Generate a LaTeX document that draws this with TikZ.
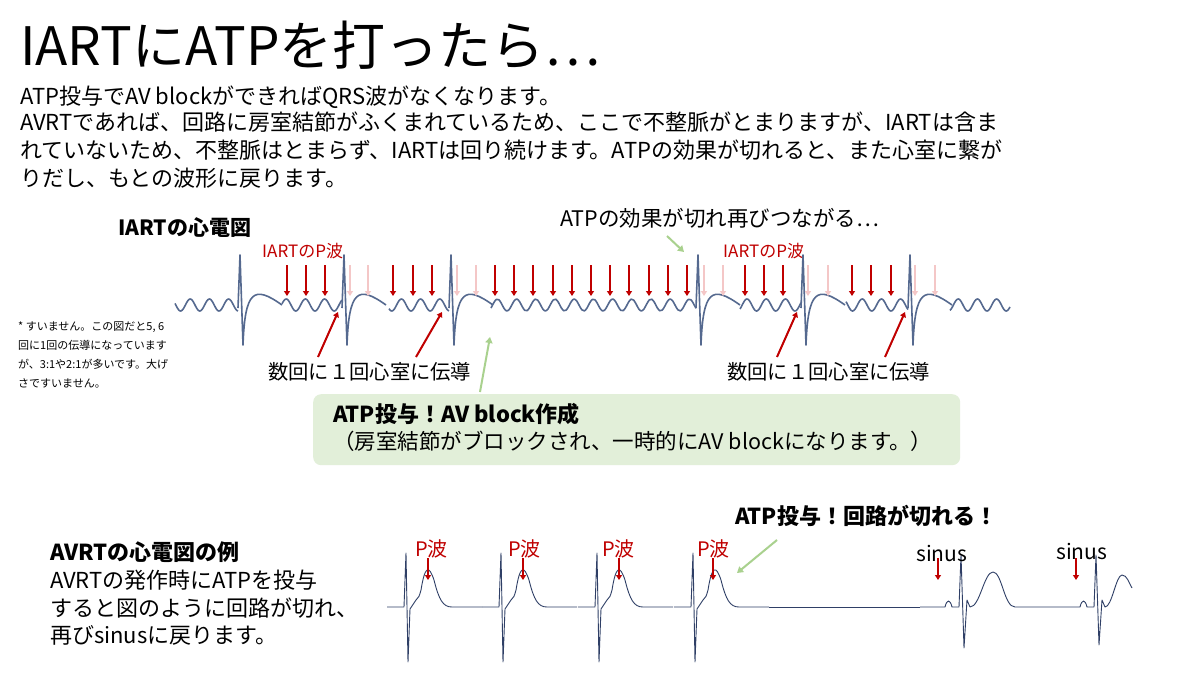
\documentclass[tikz,border=0pt]{standalone}
\usepackage{fontspec}
\setmainfont{Noto Sans CJK JP}
\usetikzlibrary{arrows.meta, positioning, math}
\definecolor{ecgBlue}{HTML}{55698F}
\definecolor{ecgDark}{HTML}{2F3F66}
\definecolor{pRed}{HTML}{C00000}
\definecolor{pPink}{HTML}{F4C7C7}
\definecolor{noteGreen}{HTML}{A9D18E}
\definecolor{boxGreen}{HTML}{E2EFD9}
\begin{document}
\begin{tikzpicture}[x=1pt,y=-1pt]
	\tikzmath{
		\base   = 305;  %upper baseline
		\lbase  = 607;  %lower baseline
		\wave   = 19.2; %IART wave length
	}
	\tikzstyle{Txt}    = [anchor=west, inner sep=0pt, font=\fontsize{22}{26}\selectfont]
	\tikzstyle{BoldTxt}= [Txt, font=\fontsize{22}{26}\selectfont\bfseries]
	\tikzstyle{RedTxt} = [anchor=west, inner sep=0pt, text=pRed, font=\fontsize{17}{20}\selectfont]
	\tikzstyle{RedArr} = [-{Triangle[length=5pt,width=6pt]}, line width=2pt, pRed]
	\tikzstyle{PinkArr}= [-{Triangle[length=5pt,width=6pt]}, line width=2pt, pPink]
	\tikzstyle{GreenArr}=[-{Triangle[length=6pt,width=7pt]}, line width=2pt, noteGreen]
	\tikzstyle{Ecg}    = [ecgBlue, line width=1.6pt, line join=round]
	\tikzstyle{EcgLow} = [ecgDark, line width=0.9pt, line join=round]

	\useasboundingbox[fill=white] (0,0) rectangle (1200,675);

	%%%%%%%%%%%%%%%%%%%%===---HEADER---===%%%%%%%%%%%%%%%%%%%%
	\node (title) [anchor=west, inner sep=0pt, font=\fontsize{53}{58}\selectfont] at (20,45) {IARTにATPを打ったら…};
	\node (line1) [Txt] at (20,97)  {ATP投与でAV blockができればQRS波がなくなります。};
	\node (line2) [Txt] at (20,122) {AVRTであれば、回路に房室結節がふくまれているため、ここで不整脈がとまりますが、IARTは含ま};
	\node (line3) [Txt] at (20,150) {れていないため、不整脈はとまらず、IARTは回り続けます。ATPの効果が切れると、また心室に繋が};
	\node (line4) [Txt] at (20,178) {りだし、もとの波形に戻ります。};

	%%%%%%%%%%%%%%%%%%%%===---IART ECG---===%%%%%%%%%%%%%%%%%%%%
	\node (iartTitle) [BoldTxt, font=\fontsize{21}{24}\selectfont\bfseries] at (118,228) {IARTの心電図};
	\node (pLabel1) [RedTxt] at (262,251) {IARTのP波};
	\node (pLabel2) [RedTxt] at (723,251) {IARTのP波};
	\node (again) [Txt, font=\fontsize{21.5}{24}\selectfont] at (560,218) {ATPの効果が切れ再びつながる…};

	\foreach \a/\b in {175/238, 282/342, 389/449, 491/696, 740/801, 846/908, 950/1010}
		\draw[Ecg] plot[domain=\a:\b, samples=80, smooth] (\x, {\base + 6*sin(360*mod(\x-3,\wave)/\wave)});
	\foreach \s in {240, 344, 451, 698, 803, 910}
		\draw[Ecg] (\s-2,\base+3) -- (\s,255) -- (\s+3,345) .. controls (\s+5,290) and (\s+14,285) .. (\s+42,\base);

	\foreach \ax in {287,306,325, 393,413,432, 495,514,533,553,572,591,610,629,649,668,687, 745,764,783, 852,871,891} {
		\coordinate (rt\ax) at (\ax,265);
		\coordinate (rb\ax) at (\ax,296);
		\draw[RedArr] (rt\ax) -- (rb\ax);
	}
	\foreach \ax in {350,368, 457,476, 704,723, 808,828, 915,935} {
		\coordinate (pt\ax) at (\ax,265);
		\coordinate (pb\ax) at (\ax,296);
		\draw[PinkArr] (pt\ax) -- (pb\ax);
	}

	\node (cond1) [Txt, font=\fontsize{20.3}{24}\selectfont] at (268,372) {数回に１回心室に伝導};
	\node (cond2) [Txt, font=\fontsize{20.3}{24}\selectfont] at (727,372) {数回に１回心室に伝導};
	\coordinate (c1a) at (318,357); \coordinate (c1b) at (338,312);
	\coordinate (c2a) at (416,357); \coordinate (c2b) at (442,312);
	\coordinate (c3a) at (777,357); \coordinate (c3b) at (797,312);
	\coordinate (c4a) at (885,357); \coordinate (c4b) at (905,312);
	\foreach \c in {c1, c2, c3, c4}
		\draw[RedArr] (\c a) -- (\c b);

	\coordinate (gA1) at (667,236); \coordinate (gB1) at (684,252);
	\draw[GreenArr] (gA1) -- (gB1);
	\coordinate (gA2) at (480,392); \coordinate (gB2) at (490,337);
	\draw[GreenArr] (gA2) -- (gB2);

	\node (box) [draw=none, fill=boxGreen, rounded corners=8pt, minimum width=647pt, minimum height=71pt, anchor=north west] at (313,394) {};
	\node (boxHead) [BoldTxt] at (333,414) {ATP投与！AV block作成};
	\node (boxText) [Txt, font=\fontsize{21.5}{26}\selectfont] at (333,441) {（房室結節がブロックされ、一時的にAV blockになります。）};

	\node (note) [anchor=north west, inner sep=0pt, align=left, font=\fontsize{11}{19}\selectfont] at (18,322)
		{* すいません。この図だと5, 6\\回に1回の伝導になっています\\が、3:1や2:1が多いです。大げ\\さですいません。};

	%%%%%%%%%%%%%%%%%%%%===---AVRT ECG---===%%%%%%%%%%%%%%%%%%%%
	\node (avrtTitle) [BoldTxt] at (50,552) {AVRTの心電図の例};
	\node (avrt1) [Txt] at (50,580) {AVRTの発作時にATPを投与};
	\node (avrt2) [Txt] at (50,608) {すると図のように回路が切れ、};
	\node (avrt3) [Txt] at (50,635) {再びsinusに戻ります。};
	\node (cut) [BoldTxt] at (735,516) {ATP投与！回路が切れる！};

	\foreach \s in {407, 502, 598, 694}
		\draw[EcgLow] (\s-20,\lbase) -- (\s-3,\lbase) -- (\s-1,553) -- (\s+1,662) -- (\s+3,\lbase+2)
			-- (\s+9,600) .. controls (\s+12,597) .. (\s+14,590) .. controls (\s+18,565) and (\s+22,565) .. (\s+27,580)
			.. controls (\s+32,600) and (\s+36,\lbase) .. (\s+45,\lbase) -- (\s+75,\lbase);
	\draw[EcgLow] (769,\lbase) -- (920,\lbase);
	\draw[EcgLow] (920,\lbase) -- (945,\lbase) .. controls (947,599) and (950,599) .. (952,\lbase) -- (959,\lbase)
		-- (961,555) -- (964,648) -- (967,600) -- (970,\lbase) .. controls (980,\lbase) and (984,572) .. (993,572)
		.. controls (1002,572) and (1004,\lbase) .. (1015,\lbase) -- (1080,\lbase)
		.. controls (1082,599) and (1085,599) .. (1087,\lbase) -- (1094,\lbase)
		-- (1096,555) -- (1099,645) -- (1102,600) -- (1105,\lbase) .. controls (1112,\lbase) and (1116,575) .. (1122,575)
		.. controls (1127,575) and (1129,583) .. (1132,588);

	\foreach \px in {415, 508, 602, 697}
		\node (pw\px) [RedTxt, font=\fontsize{20}{22}\selectfont] at (\px,549) {P波};
	\foreach \ax in {428, 523, 619, 713, 938, 1076} {
		\coordinate (lt\ax) at (\ax,558);
		\coordinate (lb\ax) at (\ax,580);
		\draw[RedArr] (lt\ax) -- (lb\ax);
	}
	\node (sinus1) [Txt, font=\fontsize{21}{24}\selectfont] at (916,553) {sinus};
	\node (sinus2) [Txt, font=\fontsize{21}{24}\selectfont] at (1056,551) {sinus};
	\coordinate (gA3) at (777,540); \coordinate (gB3) at (737,573);
	\draw[GreenArr] (gA3) -- (gB3);
\end{tikzpicture}
\end{document}
